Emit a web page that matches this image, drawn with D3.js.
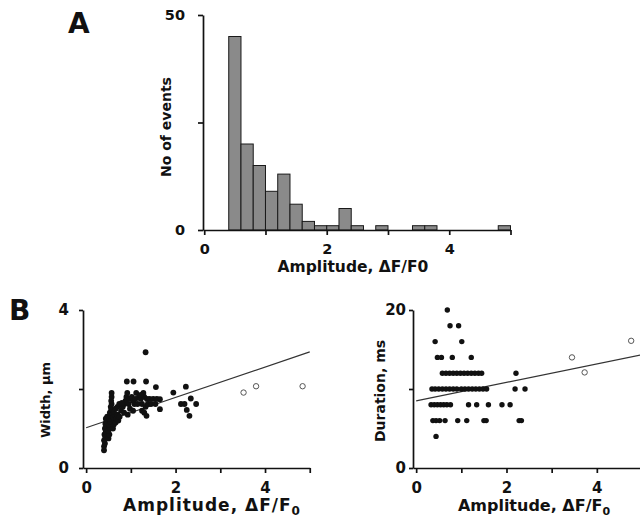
<!DOCTYPE html>
<html>
<head>
<meta charset="utf-8">
<script src="https://cdn.jsdelivr.net/npm/d3@7"></script>
<style>
  body { margin: 0; background: #fff; }
  svg { display: block; }
  text { font-family: "DejaVu Sans", "Liberation Sans", Arial, sans-serif; font-weight: bold; fill: #111; }
  .axis path, .axis line { stroke: #111; stroke-width: 1.7; }
</style>
</head>
<body>
<div id="chart"></div>
<script>
// --- data ---
// A: histogram of amplitudes (bin width 0.2)
var binLo  = [0.4, 0.6, 0.8, 1.0, 1.2, 1.4, 1.6, 1.8, 2.0, 2.2, 2.4, 2.8, 3.4, 3.6, 4.8];
var counts = [45, 20, 15, 9, 13, 6, 2, 1, 1, 5, 1, 1, 1, 1, 1];
var binW = 0.2;

// B left: amplitude vs width (filled), outliers (open), fit line
var widthPts = [
  [0.40,0.45],[0.40,0.55],[0.42,0.62],[0.40,0.70],[0.43,0.78],[0.41,0.85],[0.44,0.92],[0.42,1.00],
  [0.45,1.05],[0.43,1.12],[0.46,1.18],[0.44,1.25],[0.47,1.30],
  [0.50,0.75],[0.52,0.85],[0.50,0.95],[0.53,1.02],[0.51,1.10],[0.54,1.18],[0.52,1.25],[0.55,1.32],
  [0.53,1.40],[0.56,1.48],[0.55,1.55],[0.57,1.62],[0.56,1.70],[0.57,1.80],[0.57,1.90],
  [0.60,1.00],[0.62,1.10],[0.63,1.20],[0.61,1.28],[0.64,1.35],[0.62,1.42],[0.66,1.15],[0.68,1.25],
  [0.70,1.35],[0.66,1.50],[0.70,1.55],[0.72,1.20],[0.75,1.30],[0.78,1.45],[0.74,1.62],
  [0.82,1.55],[0.85,1.62],[0.88,1.70],[0.90,1.80],[0.92,1.90],[0.91,2.19],[0.95,1.62],[0.97,1.75],
  [0.85,1.40],[0.80,1.65],[0.93,1.35],[0.98,1.50],
  [1.06,2.19],[1.02,1.80],[1.05,1.70],[1.08,1.62],[1.10,1.75],[1.12,1.90],[1.15,1.62],[1.18,1.80],[1.05,1.45],
  [1.22,1.75],[1.25,1.62],[1.28,1.90],[1.30,1.80],[1.33,1.55],[1.34,2.19],[1.33,2.93],[1.36,1.75],
  [1.38,1.62],[1.25,1.45],[1.30,1.40],[1.35,1.32],[1.22,1.85],
  [1.42,1.75],[1.45,1.62],[1.50,1.75],[1.56,2.05],[1.55,1.62],[1.58,1.75],
  [1.65,1.49],[1.65,1.74],[1.95,1.91],[2.12,1.62],
  [2.20,1.62],[2.23,2.06],[2.25,1.47],[2.31,1.32],[2.34,1.76],[2.46,1.62]
];
var widthOpen = [[3.52,1.91],[3.80,2.07],[4.84,2.07]];
var widthFit = [1.02, 0.384];   // intercept, slope

// B right: amplitude vs duration
var durPts = [
  [0.69,20],[0.75,18],[0.94,18],[0.42,16],[1.01,16],
  [0.47,14],[0.56,14],[0.80,14],[1.22,14],
  [0.58,12],[0.66,12],[0.74,12],[0.82,12],[0.90,12],[0.98,12],[1.06,12],[1.14,12],[1.22,12],[1.30,12],[1.38,12],[1.45,12],[2.21,12],
  [0.35,10],[0.42,10],[0.50,10],[0.58,10],[0.66,10],[0.74,10],[0.82,10],[0.90,10],[1.00,10],[1.08,10],[1.16,10],[1.24,10],
  [1.32,10],[1.40,10],[1.48,10],[1.56,10],[2.19,10],[2.41,10],
  [0.33,8],[0.40,8],[0.47,8],[0.54,8],[0.61,8],[0.68,8],[0.76,8],[1.16,8],[1.34,8],[1.60,8],[1.90,8],[2.08,8],
  [0.37,6],[0.44,6],[0.52,6],[0.64,6],[0.92,6],[1.12,6],[1.50,6],[1.55,6],[2.28,6],[2.33,6],
  [0.44,4]
];
var durOpen = [[3.45,14.0],[3.73,12.1],[4.76,16.1]];
var durFit = [8.5, 1.17];

var xTicks = [0, 1, 2, 3, 4, 5];
var evenFmt = function(d) { return d % 2 === 0 ? d : ""; };

var svg = d3.select("#chart").append("svg")
  .attr("width", 640).attr("height", 521);

// ================= Panel A =================
var xA = d3.scaleLinear().domain([-0.02, 5]).range([203, 510.5]);
var yA = d3.scaleLinear().domain([0, 50]).range([230, 15]);

svg.append("g")
  .selectAll("rect")
  .data(binLo)
  .enter()
  .append("rect")
    .attr("x", function(d) { return xA(d); })
    .attr("width", function(d) { return xA(d + binW) - xA(d); })
    .attr("y", function(d, i) { return yA(counts[i]); })
    .attr("height", function(d, i) { return yA(0) - yA(counts[i]); })
    .style("fill", "#8a8a8a")
    .style("stroke", "#1a1a1a")
    .style("stroke-width", 1);

svg.append("g")
  .attr("class", "axis")
  .attr("transform", "translate(0," + yA(0) + ")")
  .call(d3.axisBottom(xA).tickValues(xTicks).tickFormat(evenFmt).tickSize(5).tickSizeOuter(0).tickPadding(9))
  .call(function(g) { g.selectAll("text").style("font-size", "14.5px"); });

svg.append("g")
  .attr("class", "axis")
  .attr("transform", "translate(" + xA(-0.02) + ",0)")
  .call(d3.axisLeft(yA).tickValues([0, 25, 50]).tickFormat(function(d) { return d === 25 ? "" : d; })
        .tickSize(5).tickSizeOuter(0).tickPadding(13))
  .call(function(g) { g.selectAll("text").style("font-size", "14.5px"); });

svg.append("text")
  .attr("x", 68).attr("y", 33)
  .style("font-size", "28px")
  .text("A");

svg.append("text")
  .attr("text-anchor", "middle")
  .attr("transform", "translate(171,127) rotate(-90)")
  .style("font-size", "14px")
  .text("No of events");

svg.append("text")
  .attr("text-anchor", "middle")
  .attr("x", 353).attr("y", 272)
  .style("font-size", "15.5px")
  .text("Amplitude, \u0394F/F0");

// ================= Panel B left =================
var xW = d3.scaleLinear().domain([-0.07, 5]).range([83, 309.75]);
var yW = d3.scaleLinear().domain([0, 4]).range([468, 310]);

svg.append("g")
  .attr("class", "axis")
  .attr("transform", "translate(0," + yW(0) + ")")
  .call(d3.axisBottom(xW).tickValues(xTicks).tickFormat(evenFmt).tickSize(5).tickSizeOuter(0).tickPadding(9))
  .call(function(g) { g.selectAll("text").style("font-size", "15px"); });

svg.append("g")
  .attr("class", "axis")
  .attr("transform", "translate(" + xW(-0.07) + ",0)")
  .call(d3.axisLeft(yW).tickValues([0, 2, 4]).tickFormat(function(d) { return d === 2 ? "" : d; })
        .tickSize(4).tickSizeOuter(0).tickPadding(10))
  .call(function(g) { g.selectAll("text").style("font-size", "15px"); });

svg.append("line")
  .attr("x1", xW(0)).attr("y1", yW(widthFit[0]))
  .attr("x2", xW(5)).attr("y2", yW(widthFit[0] + 5 * widthFit[1]))
  .style("stroke", "#333").style("stroke-width", 1.2);

svg.append("g")
  .selectAll("circle")
  .data(widthPts)
  .enter()
  .append("circle")
    .attr("cx", function(d) { return xW(d[0]); })
    .attr("cy", function(d) { return yW(d[1]); })
    .attr("r", 2.9)
    .style("fill", "#111");

svg.append("g")
  .selectAll("circle")
  .data(widthOpen)
  .enter()
  .append("circle")
    .attr("cx", function(d) { return xW(d[0]); })
    .attr("cy", function(d) { return yW(d[1]); })
    .attr("r", 2.7)
    .style("fill", "#fff")
    .style("stroke", "#555")
    .style("stroke-width", 1);

svg.append("text")
  .attr("x", 9).attr("y", 320)
  .style("font-size", "28px")
  .text("B");

svg.append("text")
  .attr("text-anchor", "middle")
  .attr("transform", "translate(50,400) rotate(-90)")
  .style("font-size", "13px")
  .text("Width, \u03bcm");

var tW = svg.append("text")
  .attr("text-anchor", "middle")
  .attr("x", 212).attr("y", 511)
  .style("font-size", "17px")
  .style("letter-spacing", "1px");
tW.append("tspan").text("Amplitude, \u0394F/F");
tW.append("tspan").attr("dy", 4).style("font-size", "12px").text("0");

// ================= Panel B right =================
var xD = d3.scaleLinear().domain([-0.07, 5]).range([413, 642]);
var yD = d3.scaleLinear().domain([0, 20]).range([468, 310]);

svg.append("g")
  .attr("class", "axis")
  .attr("transform", "translate(0," + yD(0) + ")")
  .call(d3.axisBottom(xD).tickValues(xTicks).tickFormat(evenFmt).tickSize(5).tickSizeOuter(0).tickPadding(9))
  .call(function(g) { g.selectAll("text").style("font-size", "15px"); });

svg.append("g")
  .attr("class", "axis")
  .attr("transform", "translate(" + xD(-0.07) + ",0)")
  .call(d3.axisLeft(yD).tickValues([0, 10, 20]).tickFormat(function(d) { return d === 10 ? "" : d; })
        .tickSize(4).tickSizeOuter(0).tickPadding(3))
  .call(function(g) { g.selectAll("text").style("font-size", "15px"); });

svg.append("line")
  .attr("x1", xD(0)).attr("y1", yD(durFit[0]))
  .attr("x2", xD(5)).attr("y2", yD(durFit[0] + 5 * durFit[1]))
  .style("stroke", "#333").style("stroke-width", 1.2);

svg.append("g")
  .selectAll("circle")
  .data(durPts)
  .enter()
  .append("circle")
    .attr("cx", function(d) { return xD(d[0]); })
    .attr("cy", function(d) { return yD(d[1]); })
    .attr("r", 2.7)
    .style("fill", "#111");

svg.append("g")
  .selectAll("circle")
  .data(durOpen)
  .enter()
  .append("circle")
    .attr("cx", function(d) { return xD(d[0]); })
    .attr("cy", function(d) { return yD(d[1]); })
    .attr("r", 2.7)
    .style("fill", "#fff")
    .style("stroke", "#555")
    .style("stroke-width", 1);

svg.append("text")
  .attr("text-anchor", "middle")
  .attr("transform", "translate(385,391) rotate(-90)")
  .style("font-size", "14px")
  .text("Duration, ms");

var tD = svg.append("text")
  .attr("text-anchor", "middle")
  .attr("x", 534).attr("y", 511)
  .style("font-size", "16px");
tD.append("tspan").text("Amplitude, \u0394F/F");
tD.append("tspan").attr("dy", 4).style("font-size", "11px").text("0");
</script>
</body>
</html>
